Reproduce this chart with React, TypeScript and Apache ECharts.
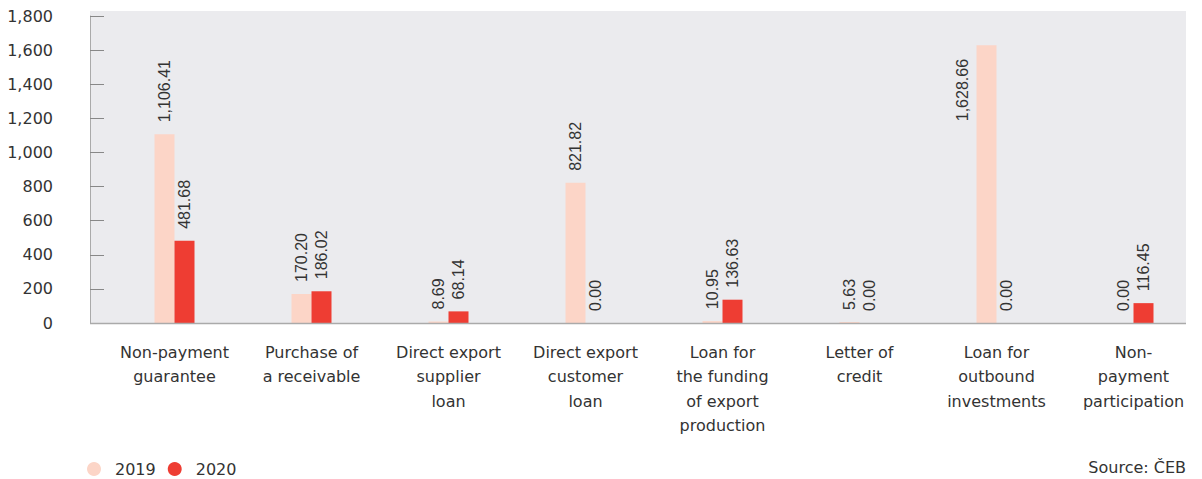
import React, { useEffect, useRef } from "react";
import * as echarts from "echarts";

const categories = [
  "Non-payment\nguarantee",
  "Purchase of\na receivable",
  "Direct export\nsupplier\nloan",
  "Direct export\ncustomer\nloan",
  "Loan for\nthe funding\nof export\nproduction",
  "Letter of\ncredit",
  "Loan for\noutbound\ninvestments",
  "Non-\npayment\nparticipation",
];
const values2019 = [1106.41, 170.2, 8.69, 821.82, 10.95, 5.63, 1628.66, 0.0];
const values2020 = [481.68, 186.02, 68.14, 0.0, 136.63, 0.0, 0.0, 116.45];
const seriesNames = ["2019", "2020"];
const sourceText = "Source: ČEB";

const FONT = "'DejaVu Sans', sans-serif";
const NUM_FONT = "'Liberation Sans', Arial, sans-serif";
const TEXT = "#333333";

const fmt = (v: number) =>
  v.toLocaleString("en-US", { minimumFractionDigits: 2, maximumFractionDigits: 2 });

// tall bars get their label beside the bar (as in the reference)
const toItems = (vals: number[]) =>
  vals.map((v) =>
    v > 1500 ? { value: v, label: { position: [-14, 76] } } : { value: v }
  );

export default function App() {
  const ref = useRef<HTMLDivElement>(null);
  useEffect(() => {
    document.body.style.margin = "0";
    const chart = echarts.init(ref.current!, null, { renderer: "svg" });
    const label = {
      show: true,
      position: "top",
      rotate: 90,
      align: "left",
      verticalAlign: "middle",
      distance: 12,
      color: TEXT,
      fontFamily: NUM_FONT,
      fontSize: 16,
      formatter: (p: any) => fmt(p.value),
    };
    chart.setOption({
      animation: false,
      grid: { left: 106, right: -2, top: 16, bottom: 156, containLabel: false },
      graphic: [
        {
          type: "rect",
          z: -10,
          silent: true,
          shape: { x: 90, y: 11, width: 1096, height: 312 },
          style: { fill: "#ebebee" },
        },
        {
          type: "line",
          z: 10,
          silent: true,
          shape: { x1: 90, y1: 323.5, x2: 1186, y2: 323.5 },
          style: { stroke: "#aaaaaa", lineWidth: 1.5 },
        },
        {
          type: "text",
          right: 16,
          top: 459,
          style: { text: sourceText, fill: TEXT, font: `16px ${FONT}` },
        },
      ],
      legend: {
        left: 82,
        top: 456,
        icon: "circle",
        itemWidth: 32,
        itemHeight: 14,
        itemGap: 12,
        textStyle: { color: TEXT, fontFamily: FONT, fontSize: 16 },
        data: seriesNames,
      },
      xAxis: {
        type: "category",
        data: categories,
        axisLine: { show: false },
        axisTick: { show: false },
        axisLabel: {
          interval: 0,
          color: TEXT,
          fontFamily: FONT,
          fontSize: 16,
          lineHeight: 24.5,
          margin: 17,
        },
      },
      yAxis: {
        type: "value",
        min: 0,
        max: 1800,
        interval: 200,
        offset: 16,
        axisLine: { show: true, lineStyle: { color: "#aaaaaa", width: 1 } },
        axisTick: { show: true, inside: true, length: 14, lineStyle: { color: "#888888" } },
        splitLine: { show: false },
        axisLabel: {
          color: TEXT,
          fontFamily: FONT,
          fontSize: 16,
          margin: 37,
          formatter: (v: number) => v.toLocaleString("en-US"),
        },
      },
      series: [
        {
          name: seriesNames[0],
          type: "bar",
          data: toItems(values2019),
          barWidth: 20,
          barGap: "0%",
          itemStyle: { color: "#fcd5c7" },
          label,
        },
        {
          name: seriesNames[1],
          type: "bar",
          data: toItems(values2020),
          barWidth: 20,
          barGap: "0%",
          itemStyle: { color: "#ee3d33" },
          label,
        },
      ],
    });
    return () => chart.dispose();
  }, []);
  return <div ref={ref} style={{ width: 1202, height: 479 }} />;
}
